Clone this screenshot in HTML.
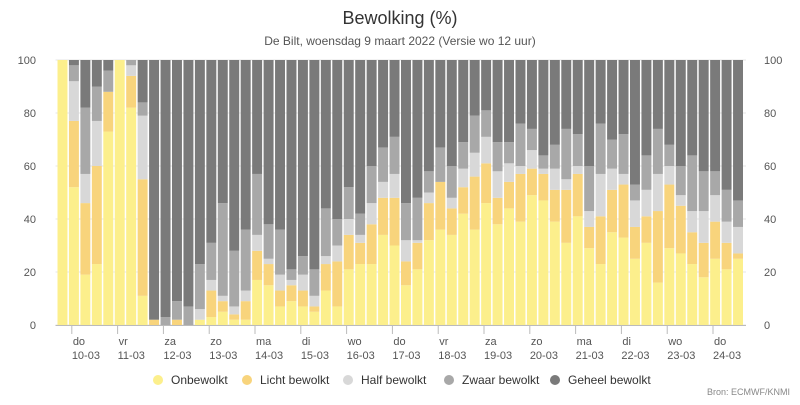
<!DOCTYPE html>
<html><head><meta charset="utf-8"><style>
body{margin:0;background:#fff;font-family:"Liberation Sans",sans-serif;}
svg text{font-family:"Liberation Sans",sans-serif;}
</style></head><body>
<svg id="chart" width="800" height="400" viewBox="0 0 800 400">
<text x="400" y="24" text-anchor="middle" font-size="18" fill="#333">Bewolking (%)</text>
<text x="400" y="45" text-anchor="middle" font-size="12" fill="#555">De Bilt, woensdag 9 maart 2022 (Versie wo 12 uur)</text>
<g id="grid"></g><g id="bars"></g><g id="axes"></g>
<g id="legend"></g>
<text x="790" y="395" text-anchor="end" font-size="9" fill="#888">Bron: ECMWF/KNMI</text>
</svg>
<script>
const onbewolkt = [100,52,19,23,73,100,82,11,0,0,0,0,2,3,5,2,2,17,15,7,9,7,5,13,7,21,23,23,34,30,15,21,32,36,34,42,36,46,38,44,39,49,47,39,31,41,29,23,35,33,25,31,16,29,27,23,18,25,21,25];
const lichtBewolkt = [0,25,27,37,15,0,12,44,2,0,2,0,0,10,4,2,7,11,8,6,6,6,2,10,17,13,8,15,14,18,9,10,14,18,10,10,20,15,10,10,18,10,10,12,20,16,8,18,16,20,12,10,27,24,18,12,13,14,10,2];
const halfBewolkt = [0,15,11,17,0,0,4,24,0,0,0,0,4,4,2,3,4,6,2,6,2,6,4,3,6,6,3,8,6,9,8,1,4,0,4,7,9,10,10,7,3,7,2,8,4,3,6,16,8,4,10,10,14,7,4,8,12,10,8,10];
const zwaarBewolkt = [0,6,25,13,8,0,2,5,0,3,7,7,17,14,35,21,23,23,13,17,4,7,10,18,10,12,8,14,13,14,14,16,8,13,12,10,14,10,11,8,16,8,5,9,19,12,17,19,11,15,6,13,17,8,11,21,15,9,12,10];
const dayNames = ["do","vr","za","zo","ma","di","wo","do","vr","za","zo","ma","di","wo","do"];
const dayDates = ["10-03","11-03","12-03","13-03","14-03","15-03","16-03","17-03","18-03","19-03","20-03","21-03","22-03","23-03","24-03"];
const yTicks = [0,20,40,60,80,100];
const seriesNames = ["Onbewolkt","Licht bewolkt","Half bewolkt","Zwaar bewolkt","Geheel bewolkt"];

const NS="http://www.w3.org/2000/svg";
const colors=["#fcef8c","#f8d47c","#d8d8d8","#a8a8a8","#7a7a7a"];
const X0=57.5,PITCH=11.45,Y0=325,Y1=60;
const yS=v=>Y0-(v/100)*(Y0-Y1);
const xS=i=>X0+i*PITCH;
function mk(t,a,p){const e=document.createElementNS(NS,t);for(const k in a)e.setAttribute(k,a[k]);p.appendChild(e);return e;}
const grid=document.getElementById('grid'),bars=document.getElementById('bars'),axes=document.getElementById('axes'),legend=document.getElementById('legend');
yTicks.forEach(v=>{
  const l=mk('line',{x1:X0-2,x2:746,y1:yS(v),y2:yS(v),stroke:'#e6e6e6','stroke-width':1},grid);
  
  
  const t1=mk('text',{x:36,y:yS(v)+4,'text-anchor':'end','font-size':11,fill:'#555'},axes);t1.textContent=v;
  
  
  const t2=mk('text',{x:764,y:yS(v)+4,'text-anchor':'start','font-size':11,fill:'#555'},axes);t2.textContent=v;
  
  
});
onbewolkt.forEach((_,i)=>{
  const vals=[onbewolkt[i],lichtBewolkt[i],halfBewolkt[i],zwaarBewolkt[i]];
  const rest=100-vals.reduce((a,b)=>a+b,0);vals.push(rest);
  let c=0;
  vals.forEach((v,s)=>{
    if(v<=0)return;
    const r=mk('rect',{x:xS(i),width:PITCH-1.5,y:yS(c+v),height:yS(c)-yS(c+v),fill:colors[s]},bars);
    
    
    c+=v;
  });
});
const ax=mk('line',{x1:X0-2,x2:746,y1:Y0+0.5,y2:Y0+0.5,stroke:'#bbb'},axes);


dayNames.forEach((d,k)=>{
  const tx=xS(1.25+4*k);
  const tk=mk('line',{x1:tx,x2:tx,y1:Y0,y2:Y0+9,stroke:'#bbb'},axes);
  
  
  const t=mk('text',{x:tx+1,y:345,'font-size':11,fill:'#555'},axes);t.textContent=d;
  
  
  const t2=mk('text',{x:tx,y:359,'font-size':11,fill:'#555'},axes);t2.textContent=dayDates[k];
  
  
});
const lx=[158,247,348,449,555];
seriesNames.forEach((n,s)=>{
  const g=mk('g',{},legend);
  
  
  mk('circle',{cx:lx[s],cy:380,r:5,fill:colors[s]},g);
  const t=mk('text',{x:lx[s]+13,y:384,'font-size':12,fill:'#333'},g);t.textContent=n;
});
</script>
</body></html>
